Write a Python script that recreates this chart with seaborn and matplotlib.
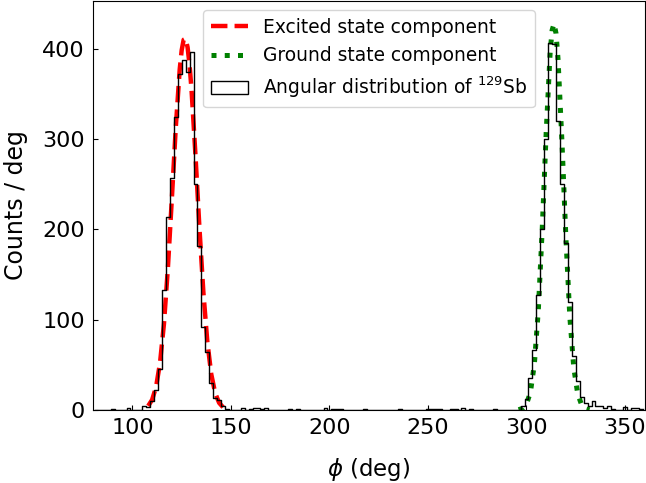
import pandas as pd
import matplotlib
matplotlib.use("Agg")
import matplotlib.pyplot as plt
from matplotlib.patches import Patch
import seaborn as sns

# histogram of phi, 2 deg bins, counts / deg
bin_edges = list(range(81, 361, 2))
bin_centers = [90, 98, 106, 108, 110, 112, 114, 116, 118, 120, 122, 124, 126, 128,
               130, 132, 134, 136, 138, 140, 142, 144, 146, 148,
               156, 160, 162, 164, 166, 168, 180, 184, 198, 202, 204, 206, 218,
               236, 250, 252, 254, 256, 262, 264, 268, 272, 284,
               298, 300, 302, 304, 306, 308, 310, 312, 314, 316, 318, 320,
               322, 324, 326, 328, 330, 332, 334, 336, 338, 340, 342, 344,
               350, 354, 356, 358]
bin_counts = [1, 2, 4, 3, 10, 22, 45, 133, 214, 257, 324, 372, 388, 374,
              396, 250, 182, 92, 64, 30, 13, 11, 4, 1,
              2, 1, 2, 2, 1, 2, 1, 1, 2, 1, 1, 1, 1,
              1, 1, 1, 1, 1, 1, 1, 2, 1, 1,
              4, 12, 35, 66, 127, 200, 300, 407, 405, 320, 250, 185,
              120, 60, 32, 14, 8, 4, 10, 4, 4, 2, 4, 1,
              3, 2, 2, 1]

# fitted components
exc_x = [108, 110, 112, 114, 116, 118, 120, 122, 124, 125, 126, 127, 128, 129,
         130, 132, 134, 136, 138, 140, 142, 144, 146]
exc_y = [4.6, 11.4, 25.7, 52.2, 95.5, 157.4, 233.8, 312.9, 377.3, 398.5, 410.1,
         411.2, 401.6, 382.0, 354.5, 282.0, 202.0, 130.6, 76.0, 39.8, 18.8, 8.0, 3.1]
gnd_x = [296, 298, 300, 302, 304, 306, 308, 310, 312, 313, 314, 315, 316,
         318, 320, 322, 324, 326, 328, 330, 332]
gnd_y = [0.4, 1.8, 6.5, 19.8, 51.0, 110.5, 201.0, 307.7, 395.8, 420.6, 428.0,
         416.9, 388.9, 297.2, 190.9, 103.0, 46.8, 17.9, 5.7, 1.5, 0.3]

hist_label = r"Angular distribution of $^{129}$Sb"
hist_df = pd.DataFrame({"phi": bin_centers, "counts": bin_counts})

fig = plt.figure(figsize=(6.46, 4.83), dpi=100)
ax = fig.add_axes([0.144, 0.151, 0.854, 0.847])

sns.lineplot(x=exc_x, y=exc_y, ax=ax, color="red", linestyle="--", linewidth=3.2,
             label="Excited state component")
sns.lineplot(x=gnd_x, y=gnd_y, ax=ax, color="green", linestyle=":", linewidth=3.6,
             label="Ground state component")
sns.histplot(data=hist_df, x="phi", weights="counts", bins=bin_edges, element="step",
             fill=False, color="black", linewidth=1.0, ax=ax)

ax.set_xlim(80, 360)
ax.set_ylim(0, 453)
ax.set_xticks([100, 150, 200, 250, 300, 350])
ax.set_yticks([0, 100, 200, 300, 400])
ax.tick_params(direction="in", labelsize=16, pad=6)
ax.set_xlabel(r"$\phi$ (deg)", fontsize=16.5, labelpad=13)
ax.set_ylabel("Counts / deg", fontsize=17, labelpad=10)

handles, labels = ax.get_legend_handles_labels()
handles = handles[:2] + [Patch(facecolor="none", edgecolor="black", linewidth=1.0)]
labels = labels[:2] + [hist_label]
ax.legend(handles, labels, loc="upper center", fontsize=13.4)

fig.savefig("out.png", dpi=100)
